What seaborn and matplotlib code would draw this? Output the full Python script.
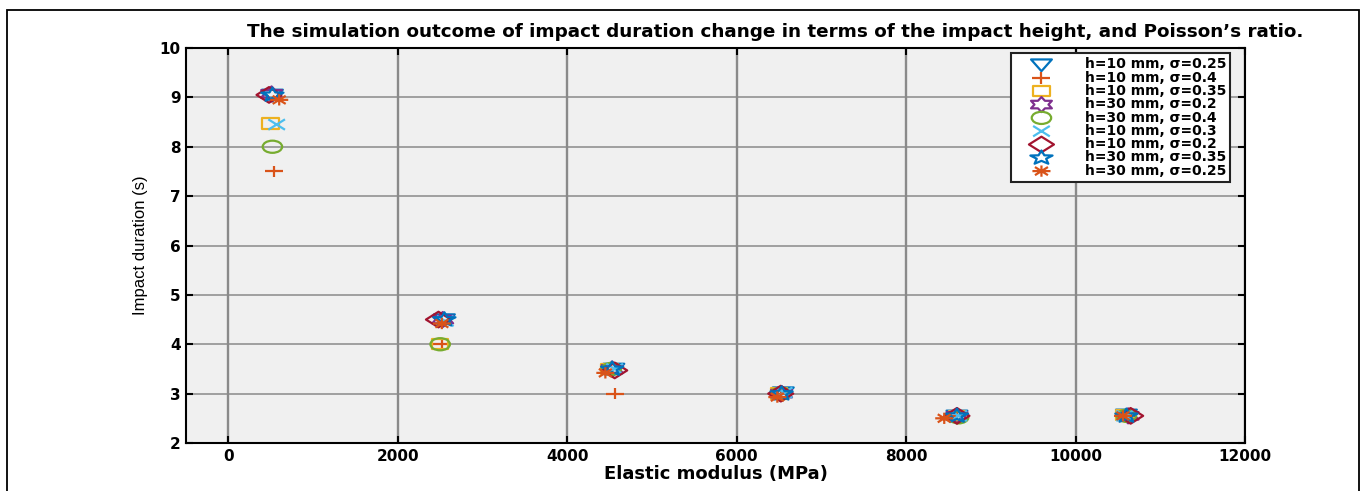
import numpy as np
import pandas as pd
import matplotlib
matplotlib.use("Agg")
import matplotlib.pyplot as plt
from matplotlib.path import Path
from matplotlib.markers import MarkerStyle
from matplotlib.patches import Rectangle
import seaborn as sns

# ---- data: elastic modulus (MPa) and impact duration (s) per run ----
labels = [
    "h=10 mm, σ=0.25", "h=10 mm, σ=0.4", "h=10 mm, σ=0.35",
    "h=30 mm, σ=0.2", "h=30 mm, σ=0.4", "h=10 mm, σ=0.3",
    "h=10 mm, σ=0.2", "h=30 mm, σ=0.35", "h=30 mm, σ=0.25",
]
e_h10_s025 = [520, 2550, 4550, 6550, 8600, 10600]
d_h10_s025 = [9.05, 4.50, 3.50, 3.02, 2.55, 2.57]
e_h10_s040 = [540, 2520, 4560, 6520, 8600, 10600]
d_h10_s040 = [7.50, 4.00, 3.00, 3.00, 2.55, 2.55]
e_h10_s035 = [500, 2500, 4500, 6500, 8600, 10580]
d_h10_s035 = [8.47, 4.00, 3.50, 3.00, 2.55, 2.57]
e_h30_s020 = [510, 2530, 4530, 6530, 8600, 10620]
d_h30_s020 = [9.07, 4.50, 3.50, 3.00, 2.55, 2.55]
e_h30_s040 = [520, 2500, 4520, 6520, 8620, 10600]
d_h30_s040 = [8.00, 4.00, 3.50, 3.00, 2.52, 2.55]
e_h10_s030 = [570, 2560, 4560, 6560, 8620, 10580]
d_h10_s030 = [8.45, 4.47, 3.50, 3.02, 2.55, 2.55]
e_h10_s020 = [480, 2480, 4560, 6520, 8600, 10650]
d_h10_s020 = [9.05, 4.50, 3.47, 3.00, 2.55, 2.55]
e_h30_s035 = [520, 2550, 4530, 6530, 8600, 10600]
d_h30_s035 = [9.05, 4.50, 3.50, 3.00, 2.55, 2.55]
e_h30_s025 = [600, 2520, 4450, 6480, 8450, 10560]
d_h30_s025 = [8.95, 4.42, 3.42, 2.93, 2.50, 2.55]

x_ticks = [0, 2000, 4000, 6000, 8000, 10000, 12000]
y_ticks = [2, 3, 4, 5, 6, 7, 8, 9, 10]

series_e = [e_h10_s025, e_h10_s040, e_h10_s035, e_h30_s020, e_h30_s040,
            e_h10_s030, e_h10_s020, e_h30_s035, e_h30_s025]
series_d = [d_h10_s025, d_h10_s040, d_h10_s035, d_h30_s020, d_h30_s040,
            d_h10_s030, d_h10_s020, d_h30_s035, d_h30_s025]

df = pd.concat(
    [pd.DataFrame({"modulus": e, "duration": d, "run": lab})
     for e, d, lab in zip(series_e, series_d, labels)],
    ignore_index=True,
)

# ---- marker shapes (drawn slightly wide) ----
SX = 1.6
M, L, C = Path.MOVETO, Path.LINETO, Path.CLOSEPOLY


def wide(path):
    return MarkerStyle(Path(path.vertices * np.array([SX, 1.0]), path.codes))


tri_down = Path([[0, -1], [-1, 0.8], [1, 0.8], [0, -1], [0, -1]], [M, L, L, L, C])
plus = Path([[-1, 0], [1, 0], [0, -1], [0, 1]], [M, L, M, L])
square = Path([[-1, -1], [1, -1], [1, 1], [-1, 1], [-1, -1]], [M, L, L, L, C])
hexagram = Path.unit_regular_star(6, 0.58)
circle = Path.unit_circle()
xmark = Path([[-1, -1], [1, 1], [-1, 1], [1, -1]], [M, L, M, L])
diamond = Path([[0, -1], [1, 0], [0, 1], [-1, 0], [0, -1]], [M, L, L, L, C])
pentagram = Path.unit_regular_star(5, 0.42)
a = 0.72
asterisk = Path([[-1, 0], [1, 0], [0, -1], [0, 1], [-a, -a], [a, a], [-a, a], [a, -a]],
                [M, L, M, L, M, L, M, L])

markers = [wide(p) for p in [tri_down, plus, square, hexagram, circle,
                             xmark, diamond, pentagram, asterisk]]
widths = [15, 13, 12, 15, 14, 12, 18, 16, 13]
colors = ["#0072BD", "#D95319", "#EDB120", "#7E2F8E", "#77AC30",
          "#4DBEEE", "#A2142F", "#0072BD", "#D95319"]

# ---- figure ----
sns.set_style("ticks")
plt.rcParams["font.family"] = ["DejaVu Sans"]
plt.rcParams["axes.unicode_minus"] = False

fig = plt.figure(figsize=(13.66, 4.91), dpi=100)
fig.patch.set_facecolor("white")
ax = fig.add_axes([186 / 1366, 1 - 443 / 491, (1245 - 186) / 1366, (443 - 48) / 491])
ax.set_facecolor("#f0f0f0")

for lab, m, w, col in zip(labels, markers, widths, colors):
    sub = df[df["run"] == lab]
    sns.scatterplot(data=sub, x="modulus", y="duration", ax=ax, marker=m,
                    s=w ** 2, color=col, facecolor="none", edgecolor=col,
                    linewidth=1.6, label=lab, zorder=3)

ax.set_xlim(-500, 12000)
ax.set_ylim(2, 10)
ax.set_xticks(x_ticks)
ax.set_yticks(y_ticks)
ax.set_xticklabels([str(v) for v in x_ticks], fontweight="bold", fontsize=11)
ax.set_yticklabels([str(v) for v in y_ticks], fontweight="bold", fontsize=11)
ax.tick_params(direction="in", top=True, right=True, length=5, width=1.5,
               color="black", pad=4, labelcolor="black")

ax.grid(True, axis="x", color="#8a8a8a", linewidth=1.7, zorder=1)
ax.grid(True, axis="y", color="#8a8a8a", linewidth=1.1, zorder=1)
ax.set_axisbelow(True)
for sp in ax.spines.values():
    sp.set_color("black")
    sp.set_linewidth(1.5)
    sp.set_visible(True)

fig.text(775 / 1366, 1 - 32 / 491,
         "The simulation outcome of impact duration change in terms of the "
         "impact height, and Poisson’s ratio.",
         fontsize=13.2, fontweight="bold", color="black",
         ha="center", va="center")
ax.set_xlabel("Elastic modulus (MPa)", fontsize=13, fontweight="bold",
              labelpad=1, color="black")
ax.set_ylabel("Impact duration (s)", fontsize=12, color="black",
              family=["Liberation Sans Narrow", "Liberation Sans"], labelpad=8)

leg = ax.legend(loc="upper right", bbox_to_anchor=(0.986, 0.987),
                borderaxespad=0, frameon=True, fancybox=False, framealpha=1,
                edgecolor="#222222", facecolor="white", scatterpoints=1,
                prop={"weight": "bold", "size": 10}, labelspacing=-0.05,
                handlelength=3.8, handletextpad=1.2, borderpad=0.3)
leg.get_frame().set_linewidth(1.5)
for t in leg.get_texts():
    t.set_color("black")

# outer frame around the figure
fig.add_artist(Rectangle((7 / 1366, -0.05), (1359 - 7) / 1366, 1.05 - 10 / 491,
                         transform=fig.transFigure, fill=False,
                         edgecolor="black", linewidth=1.3))

fig.savefig("out.png", dpi=100)
